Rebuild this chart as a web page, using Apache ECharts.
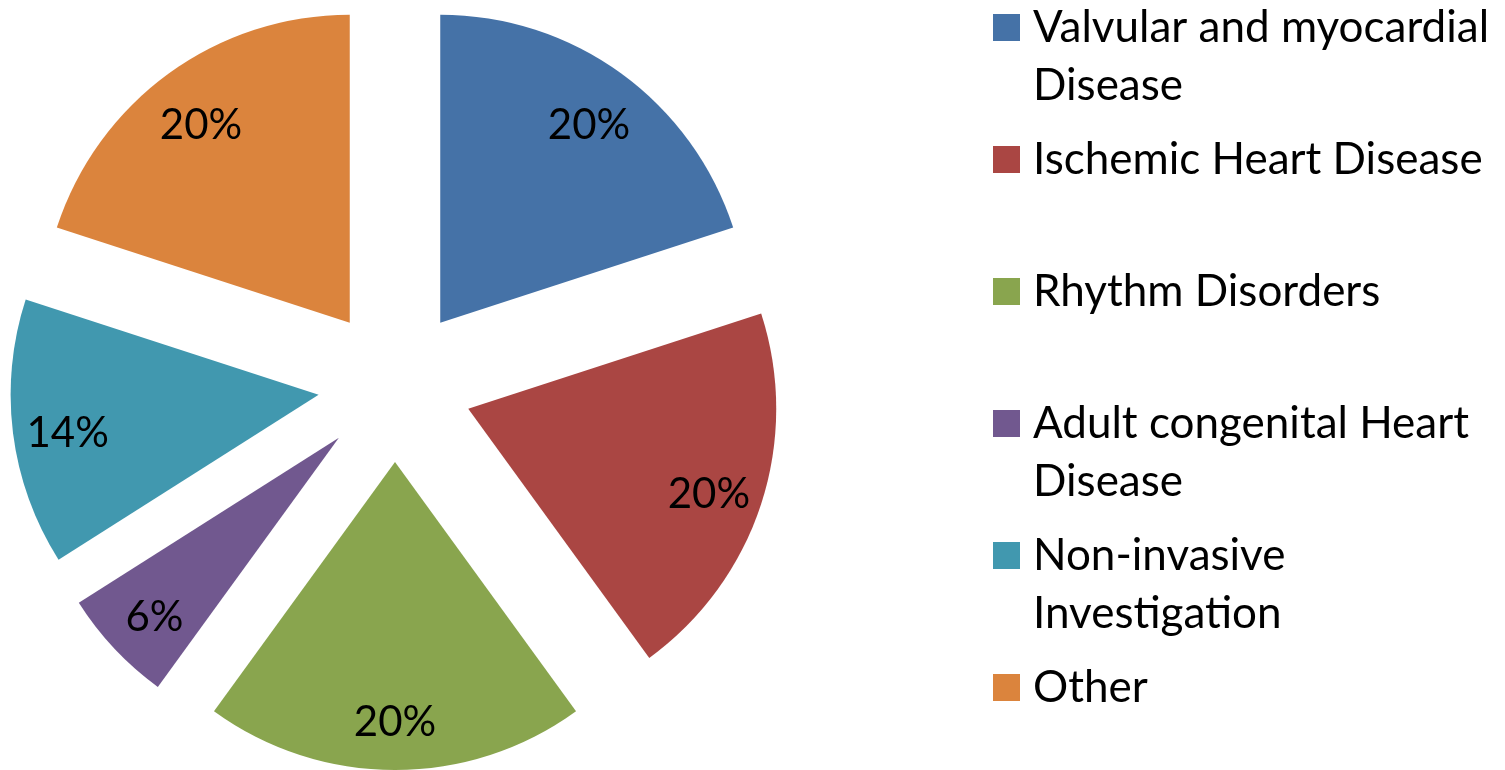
<!DOCTYPE html>
<html>
<head>
<meta charset="utf-8">
<script src="https://cdn.jsdelivr.net/npm/echarts@6/dist/echarts.min.js"></script>
<style>
html,body{margin:0;padding:0;background:#fff;}
#chart{width:1505px;height:770px;}
</style>
</head>
<body>
<div id="chart"></div>
<script>
const categories = ['Valvular and myocardial Disease', 'Ischemic Heart Disease', 'Rhythm Disorders', 'Adult congenital Heart Disease', 'Non-invasive Investigation', 'Other'];
const legendLabels = ['Valvular and myocardial\nDisease', 'Ischemic Heart Disease', 'Rhythm Disorders', 'Adult congenital Heart\nDisease', 'Non-invasive\nInvestigation', 'Other'];
const values = [20, 20, 20, 6, 14, 20];
const colors = ['#4572A7', '#AA4643', '#89A54E', '#71588F', '#4198AF', '#DB843D'];

const FONT = 'Lato';
const LABEL_SIZE = 42;
const LEGEND_SIZE = 44;
const LINE_H = 58;
const CX = 395, CY = 385, R = 308, OFFSET = 77;

const chart = echarts.init(document.getElementById('chart'));

const pieData = categories.map((n, i) => ({ name: n, value: values[i], selected: true, itemStyle: { color: colors[i] } }));
const ringData = categories.map((n, i) => ({ name: n, value: values[i], selected: true }));

const legendCenters = [27.5, 159.5, 291.5, 423.5, 555.5, 687.5];
const legends = categories.map((n, i) => {
  const twoLine = legendLabels[i].indexOf('\n') >= 0;
  return {
    data: [n],
    orient: 'vertical',
    left: 993,
    top: twoLine ? legendCenters[i] - (LINE_H * 3) / 2 : legendCenters[i] - LINE_H / 2,
    padding: 0,
    itemWidth: 27,
    itemHeight: 27,
    icon: 'rect',
    selectedMode: false,
    formatter: function (name) {
      const lbl = legendLabels[categories.indexOf(name)];
      // a leading empty line keeps the first text line level with the icon
      return lbl.indexOf('\n') >= 0 ? '\n' + lbl : lbl;
    },
    textStyle: {
      fontFamily: FONT,
      fontSize: LEGEND_SIZE,
      lineHeight: LINE_H,
      color: '#000',
      padding: [0, 0, 0, 8]
    }
  };
});

chart.setOption({
  animation: false,
  backgroundColor: '#fff',
  legend: legends,
  series: [
    {
      type: 'pie',
      center: [CX, CY],
      radius: [0, R],
      startAngle: 90,
      clockwise: true,
      selectedMode: 'multiple',
      selectedOffset: OFFSET,
      silent: true,
      label: { show: false },
      labelLine: { show: false },
      itemStyle: { borderWidth: 0 },
      select: { itemStyle: { borderWidth: 0 } },
      emphasis: { disabled: true },
      data: pieData
    },
    {
      type: 'pie',
      center: [CX, CY],
      radius: [192, R],
      startAngle: 90,
      clockwise: true,
      selectedMode: 'multiple',
      selectedOffset: OFFSET,
      silent: true,
      itemStyle: { color: 'rgba(0,0,0,0)', borderWidth: 0 },
      select: { itemStyle: { color: 'rgba(0,0,0,0)', borderWidth: 0 } },
      emphasis: { disabled: true },
      labelLine: { show: false },
      label: {
        show: true,
        position: 'inside',
        // leading empty short line nudges the value text slightly downward
        formatter: '\n{c}%',
        fontFamily: FONT,
        fontSize: LABEL_SIZE,
        lineHeight: 14,
        color: '#000'
      },
      data: ringData
    }
  ]
});
</script>
</body>
</html>
